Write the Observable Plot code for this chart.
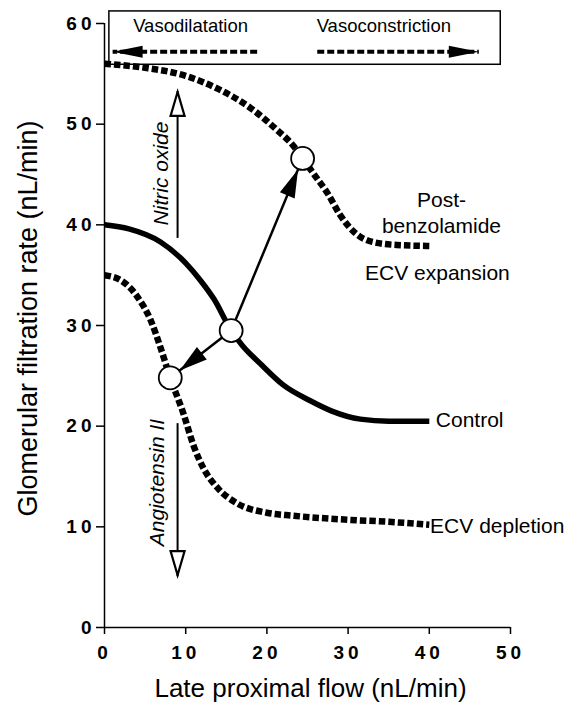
<!DOCTYPE html>
<html><head><meta charset="utf-8">
<script src="https://cdn.jsdelivr.net/npm/d3@7"></script>
<script src="https://cdn.jsdelivr.net/npm/@observablehq/plot@0.6"></script>
<style>
body{margin:0;background:#fff}
#chart svg{display:block}
</style></head><body><div id="chart"></div>
<script>
// ---- data ----
const xTicks = [0, 10, 20, 30, 40, 50];
const yTicks = [0, 10, 20, 30, 40, 50, 60];

const postX = [0, 5, 10, 14, 18, 21, 23.3, 24.4, 26, 27.5, 29, 31, 33, 36, 40];
const postY = [56, 55.6, 54.8, 53.5, 51.6, 49.6, 47.8, 46.6, 44.8, 43.1, 41, 39.1, 38.3, 38, 37.9];

const controlX = [0, 3, 6.9, 10, 11.8, 13.5, 15.6, 17, 19.2, 22, 25.4, 28, 31.5, 35, 40];
const controlY = [40, 39.6, 38.3, 36.2, 34.5, 32.6, 29.5, 28, 26.2, 24.1, 22.5, 21.5, 20.7, 20.5, 20.5];

const depletionX = [0, 2, 4.1, 5.7, 6.9, 8.1, 9.7, 11, 12.2, 14, 16.4, 20, 23.3, 30, 35, 40];
const depletionY = [35, 34.5, 32.8, 30.5, 27.8, 24.8, 21.3, 18, 15.8, 13.8, 12.3, 11.4, 11.1, 10.7, 10.5, 10.2];

// operating points (circles)
const pointX = [15.6, 24.4, 8.1];
const pointY = [29.5, 46.6, 24.8];

// vertical hormone arrows
const hormoneNames = ["Nitric oxide", "Angiotensin II"];
const hormoneX = [9, 9];
const hormoneFrom = [38.7, 20.3];
const hormoneTo = [53.3, 5.1];
const hormoneLabelX = [7.0, 6.5];
const hormoneLabelY = [45.1, 14.4];

// header box
const boxX = [0.6, 48.8];
const boxY = [55.9, 61.2];
const headerLabels = ["Vasodilatation", "Vasoconstriction"];
const headerLabelX = [10.6, 34.4];
const headerLabelY = [59.7, 59.7];
const headerArrowFrom = [18.8, 26.2];
const headerArrowTo = [1.0, 46.1];
const headerArrowY = 57.2;

// curve labels
const centerLabels = ["Post-", "benzolamide", "ECV expansion"];
const centerLabelX = [41.5, 41.5, 41.0];
const centerLabelY = [42.4, 39.9, 35.2];
const leftLabels = ["Control", "ECV depletion"];
const leftLabelX = [40.8, 40.1];
const leftLabelY = [20.6, 10.1];

const xTitle = "Late proximal flow (nL/min)";
const yTitle = "Glomerular filtration rate (nL/min)";

// ---- tables ----
const toPts = (xs, ys) => xs.map((x, i) => ({x, y: ys[i]}));
const post = toPts(postX, postY);
const control = toPts(controlX, controlY);
const depletion = toPts(depletionX, depletionY);
const points = toPts(pointX, pointY);
const shifts = [1, 2].map(i => ({x1: pointX[0], y1: pointY[0], x2: pointX[i], y2: pointY[i]}));
const hormones = hormoneNames.map((n, i) => ({name: n, x: hormoneX[i], y1: hormoneFrom[i], y2: hormoneTo[i], lx: hormoneLabelX[i], ly: hormoneLabelY[i]}));
const headerArrows = headerArrowFrom.map((f, i) => ({x1: f, x2: headerArrowTo[i], y: headerArrowY}));
const headers = headerLabels.map((t, i) => ({t, x: headerLabelX[i], y: headerLabelY[i]}));
const cLabels = centerLabels.map((t, i) => ({t, x: centerLabelX[i], y: centerLabelY[i]}));
const lLabels = leftLabels.map((t, i) => ({t, x: leftLabelX[i], y: leftLabelY[i]}));

const dash = {stroke: "black", strokeWidth: 6.5, strokeDasharray: "6.5,3", strokeLinecap: "butt", curve: "monotone-x"};

const plot = Plot.plot({
  width: 569,
  height: 706,
  marginLeft: 104,
  marginRight: 59,
  marginTop: 23,
  marginBottom: 79,
  style: {fontFamily: "'Liberation Sans', Arial, Helvetica, sans-serif", background: "white", color: "black", overflow: "visible"},
  x: {domain: [0, 50]},
  y: {domain: [0, 60]},
  marks: [
    Plot.rect([{}], {x1: boxX[0], x2: boxX[1], y1: boxY[0], y2: boxY[1], fill: "none", stroke: "black", strokeWidth: 1.5}),
    Plot.ruleX([0], {y1: yTicks[0], y2: yTicks[yTicks.length - 1], stroke: "black", strokeWidth: 1.5}),
    Plot.ruleY([0], {x1: xTicks[0], x2: xTicks[xTicks.length - 1], stroke: "black", strokeWidth: 1.5}),
    Plot.axisX({ticks: xTicks, tickSize: 7, tickPadding: 11, fontSize: 19, fontWeight: "bold", label: null, strokeWidth: 1.5}),
    Plot.axisY({ticks: yTicks, tickSize: 8, tickPadding: 1, fontSize: 19, fontWeight: "bold", label: null, strokeWidth: 1.5}),
    Plot.line(post, {x: "x", y: "y", ...dash}),
    Plot.line(depletion, {x: "x", y: "y", ...dash}),
    Plot.line(control, {x: "x", y: "y", stroke: "black", strokeWidth: 5.5, strokeLinecap: "butt", curve: "monotone-x"}),
    // header arrows (1st link mark)
    Plot.link(headerArrows, {x1: "x1", x2: "x2", y1: "y", y2: "y", stroke: "black", strokeWidth: 4, strokeDasharray: "7,3", strokeLinecap: "butt"}),
    Plot.text(headers, {x: "x", y: "y", text: "t", fontSize: 18.5, fill: "black"}),
    // hormone arrows (2nd link mark)
    Plot.link(hormones, {x1: "x", x2: "x", y1: "y1", y2: "y2", stroke: "black", strokeWidth: 2}),
    Plot.text(hormones, {x: "lx", y: "ly", text: "name", rotate: -90, fontSize: 21, fontStyle: "italic", fill: "black"}),
    // shift arrows (3rd link mark)
    Plot.link(shifts, {x1: "x1", y1: "y1", x2: "x2", y2: "y2", stroke: "black", strokeWidth: 2.5}),
    Plot.dot(points, {x: "x", y: "y", r: 11.5, fill: "white", stroke: "black", strokeWidth: 1.8}),
    // labels
    Plot.text(cLabels, {x: "x", y: "y", text: "t", fontSize: 21, fill: "black"}),
    Plot.text(lLabels, {x: "x", y: "y", text: "t", fontSize: 21, textAnchor: "start", fill: "black"}),
    Plot.text([xTitle], {frameAnchor: "bottom", lineAnchor: "middle", dx: 3, dy: 61, fontSize: 26, fill: "black"}),
    Plot.text([yTitle], {frameAnchor: "left", textAnchor: "middle", lineAnchor: "middle", rotate: -90, dx: -76, dy: -7, fontSize: 27, fill: "black"})
  ]
});

// custom arrowheads
const ns = "http://www.w3.org/2000/svg";
const defs = document.createElementNS(ns, "defs");
function addMarker(id, d, fill, stroke, sw) {
  const m = document.createElementNS(ns, "marker");
  m.setAttribute("id", id);
  m.setAttribute("markerUnits", "userSpaceOnUse");
  m.setAttribute("orient", "auto");
  m.setAttribute("refX", 0);
  m.setAttribute("refY", 0);
  m.setAttribute("markerWidth", 1);
  m.setAttribute("markerHeight", 1);
  m.setAttribute("overflow", "visible");
  m.style.overflow = "visible";
  const p = document.createElementNS(ns, "path");
  p.setAttribute("d", d);
  p.setAttribute("fill", fill);
  p.setAttribute("stroke", stroke);
  p.setAttribute("stroke-width", sw);
  p.setAttribute("stroke-dasharray", "none");
  p.setAttribute("stroke-linejoin", "miter");
  m.appendChild(p);
  defs.appendChild(m);
}
addMarker("solidHead", "M-12,0L-40,-8L-40,8Z", "black", "none", 0);
addMarker("hollowHead", "M-1,0L-25,-7L-25,7Z", "white", "black", 2.2);
addMarker("boxHead", "M0,0L-30,-6L-30,6Z", "black", "none", 0);
plot.insertBefore(defs, plot.firstChild);
const linkGroups = plot.querySelectorAll('g[aria-label="link"]');
const headIds = ["boxHead", "hollowHead", "solidHead"];
linkGroups.forEach((g, i) => g.querySelectorAll("path").forEach(p => p.setAttribute("marker-end", `url(#${headIds[i]})`)));

plot.querySelectorAll('g[aria-label="y-axis tick label"] text, g[aria-label="x-axis tick label"] text').forEach(t => t.setAttribute("letter-spacing", "4"));

document.getElementById("chart").appendChild(plot);
</script></body></html>
